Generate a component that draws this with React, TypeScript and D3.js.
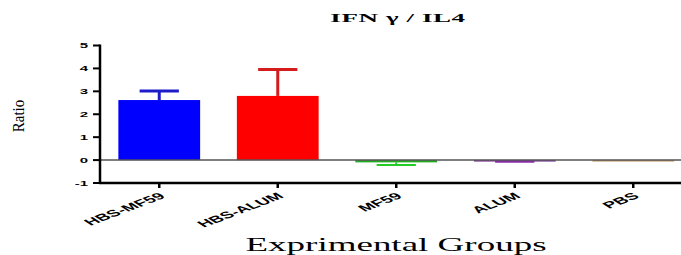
import * as d3 from 'd3';
import React from 'react';

const groups = ['HBS-MF59', 'HBS-ALUM', 'MF59', 'ALUM', 'PBS'];
const means = [2.62, 2.8, -0.1, -0.06, -0.03];
const errors = [0.4, 1.15, 0.11, 0.01, 0.0];
const colors = ['#0000ff', '#ff0000', '#22aa22', '#7a3296', '#c49a6c'];
const errColors = ['#1c1cc8', '#d41c1c', '#22cc22', '#8a2bb0', '#c49a6c'];
const yTicks = [5, 4, 3, 2, 1, 0, -1];

const width = 681;
const height = 255;
const sx = 2; // the picture is stretched sideways

function App() {
  const x = d3.scaleBand<string>().domain(groups).range([100, 692.5]).paddingInner(0.31).paddingOuter(0.155);
  const y = d3.scaleLinear().domain([-1, 5]).range([183, 45.5]);
  const bw = x.bandwidth();

  return (
    <svg width={width} height={height} style={{ position: 'absolute', left: 0, top: 0, background: '#fff' }}>
      {/* title */}
      <g transform={`translate(398,22) scale(${sx},1)`}>
        <text textAnchor="middle" fontFamily="Liberation Serif, Times New Roman, serif" fontWeight="bold" fontSize={13.5} letterSpacing={0.3}>
          IFN γ / IL4
        </text>
      </g>

      {/* y label */}
      <g transform={`translate(24,116) scale(1.15,1) rotate(-90)`}>
        <text textAnchor="middle" fontFamily="Liberation Serif, Times New Roman, serif" fontSize={15}>
          Ratio
        </text>
      </g>

      {/* bars */}
      {groups.map((g, i) => {
        const x0 = x(g)!;
        const top = Math.min(y(means[i]), y(0));
        const h = Math.max(Math.abs(y(means[i]) - y(0)), 1.5);
        const cx = x0 + bw / 2;
        const ey = y(means[i] + Math.sign(means[i]) * errors[i]);
        return (
          <g key={g}>
            {errors[i] > 0 && (
              <g stroke={errColors[i]} strokeWidth={means[i] > 0 ? 3 : 2}>
                <line x1={cx} x2={cx} y1={y(means[i])} y2={ey} />
                <line x1={cx - bw * 0.24} x2={cx + bw * 0.24} y1={ey} y2={ey} />
              </g>
            )}
            <rect x={x0} y={top} width={bw} height={h} fill={colors[i]} />
          </g>
        );
      })}

      {/* zero line */}
      <line x1={100} x2={width} y1={y(0)} y2={y(0)} stroke="#555" strokeWidth={1.5} />

      {/* y axis */}
      <line x1={100} x2={100} y1={y(5) - 1} y2={y(-1) + 1} stroke="#000" strokeWidth={2.5} />
      {yTicks.map((t) => (
        <g key={t}>
          <line x1={93} x2={100} y1={y(t)} y2={y(t)} stroke="#000" strokeWidth={2} />
          <g transform={`translate(88,${y(t)}) scale(${sx},1)`}>
            <text textAnchor="end" dy="0.36em" fontFamily="Liberation Sans, Arial, sans-serif" fontWeight="bold" fontSize={7.5}>
              {t < 0 ? `-${Math.abs(t)}` : t}
            </text>
          </g>
        </g>
      ))}

      {/* x axis */}
      <line x1={99} x2={width} y1={y(-1)} y2={y(-1)} stroke="#000" strokeWidth={2.5} />
      {groups.map((g) => {
        const cx = x(g)! + bw / 2;
        return (
          <g key={g}>
            <line x1={cx} x2={cx} y1={y(-1)} y2={y(-1) + 5} stroke="#000" strokeWidth={2.5} />
            <g transform={`translate(${cx - 1},${y(-1) + 9}) scale(${sx},1) rotate(-37)`}>
              <text textAnchor="end" dy="0.7em" fontFamily="Liberation Sans, Arial, sans-serif" fontWeight="bold" fontSize={9.5}>
                {g}
              </text>
            </g>
          </g>
        );
      })}

      {/* x label */}
      <g transform={`translate(396,251) scale(${sx},1)`}>
        <text textAnchor="middle" fontFamily="Liberation Serif, Times New Roman, serif" fontSize={18.5}>
          Exprimental Groups
        </text>
      </g>
    </svg>
  );
}

export default App;
